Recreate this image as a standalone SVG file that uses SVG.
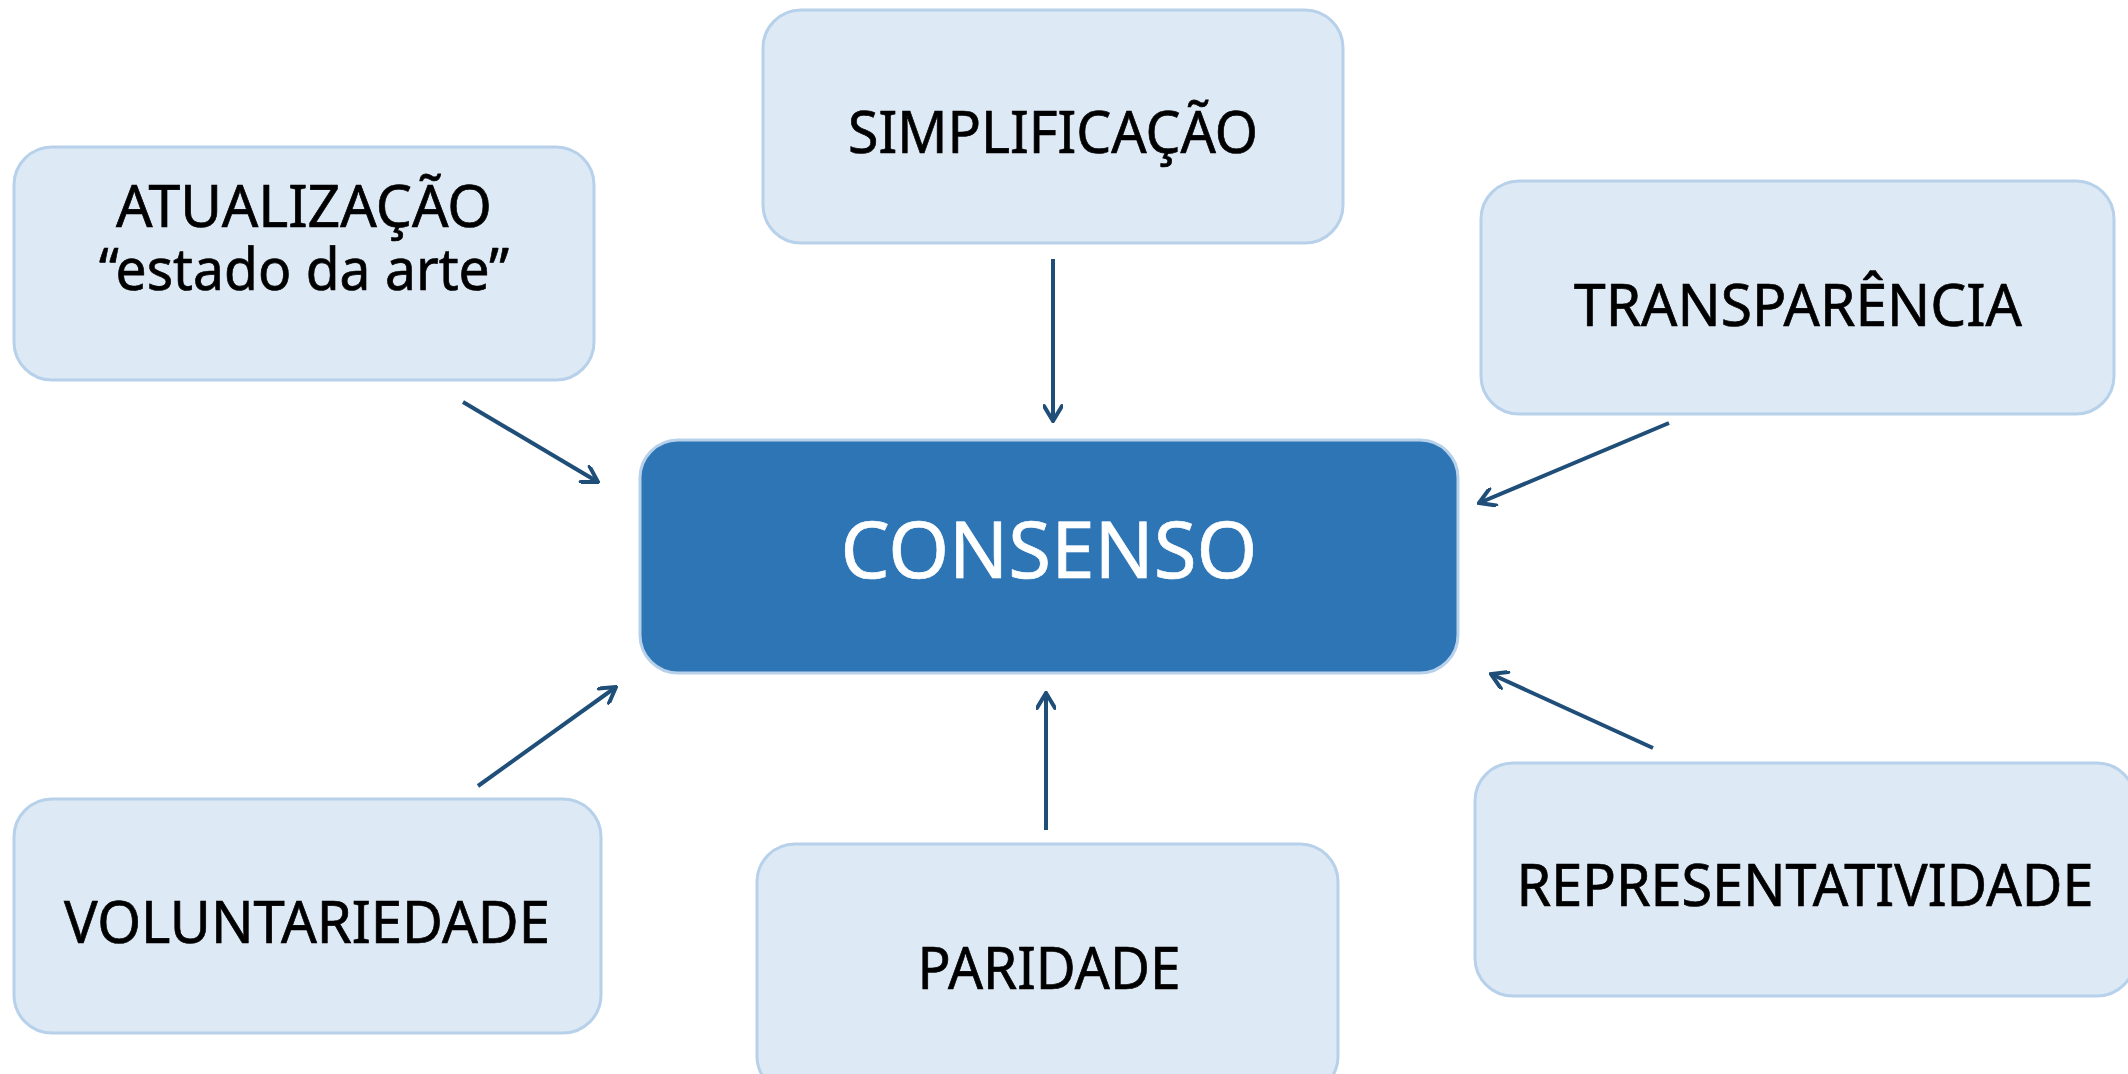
<svg xmlns="http://www.w3.org/2000/svg" width="2128" height="1074" viewBox="0 0 2128 1074">
<style>
.box{fill:#dde9f5;stroke:#b7d1ea;stroke-width:3}
.core{fill:#2e75b6;stroke:#b7d1ea;stroke-width:3}
.lbl{font-family:"Noto Sans","Open Sans","DejaVu Sans",sans-serif;font-size:58px;fill:#000;stroke:#000;stroke-width:0.7;text-anchor:middle}
.big{font-family:"Noto Sans","Open Sans","DejaVu Sans",sans-serif;font-size:78px;fill:#fff;stroke:#fff;stroke-width:0.7;text-anchor:middle}
.conn line{stroke:#1f4e79;stroke-width:4;fill:none;marker-end:url(#arr)}
</style>
<defs>
<marker id="arr" viewBox="0 0 20 20" refX="18" refY="10" markerWidth="20" markerHeight="20" markerUnits="userSpaceOnUse" orient="auto">
<path d="M3,1 L18,10 L3,19" fill="none" stroke="#1f4e79" stroke-width="4" stroke-linecap="round" stroke-linejoin="miter"/>
</marker>
</defs>
<rect width="2128" height="1074" fill="#fff"/>
<g id="atualizacao">
<rect class="box" x="14" y="147" width="580" height="233" rx="38"/>
<text class="lbl" x="304" y="227" textLength="376" lengthAdjust="spacingAndGlyphs">ATUALIZAÇÃO</text>
<text class="lbl" x="304" y="290" textLength="410" lengthAdjust="spacingAndGlyphs">“estado da arte”</text>
</g>
<g id="simplificacao">
<rect class="box" x="763" y="10" width="580" height="233" rx="38"/>
<text class="lbl" x="1053" y="153" textLength="410" lengthAdjust="spacingAndGlyphs">SIMPLIFICAÇÃO</text>
</g>
<g id="transparencia">
<rect class="box" x="1481" y="181" width="633" height="233" rx="38"/>
<text class="lbl" x="1798" y="326" textLength="448" lengthAdjust="spacingAndGlyphs">TRANSPARÊNCIA</text>
</g>
<g id="consenso">
<rect class="core" x="640" y="440" width="818" height="233" rx="38"/>
<text class="big" x="1049" y="578" textLength="417" lengthAdjust="spacingAndGlyphs">CONSENSO</text>
</g>
<g id="voluntariedade">
<rect class="box" x="14" y="799" width="587" height="234" rx="38"/>
<text class="lbl" x="307" y="943" textLength="486" lengthAdjust="spacingAndGlyphs">VOLUNTARIEDADE</text>
</g>
<g id="paridade">
<rect class="box" x="757" y="844" width="581" height="250" rx="38"/>
<text class="lbl" x="1049" y="989" textLength="263" lengthAdjust="spacingAndGlyphs">PARIDADE</text>
</g>
<g id="representatividade">
<rect class="box" x="1475" y="763" width="660" height="233" rx="38"/>
<text class="lbl" x="1805" y="906" textLength="577" lengthAdjust="spacingAndGlyphs">REPRESENTATIVIDADE</text>
</g>
<g id="connectors" class="conn">
<line x1="463" y1="402" x2="598" y2="482"/>
<line x1="1053" y1="259" x2="1053" y2="421"/>
<line x1="1669" y1="423" x2="1479" y2="503"/>
<line x1="478" y1="786" x2="616" y2="687"/>
<line x1="1046" y1="830" x2="1046" y2="693"/>
<line x1="1653" y1="748" x2="1491" y2="674"/>
</g>
</svg>
